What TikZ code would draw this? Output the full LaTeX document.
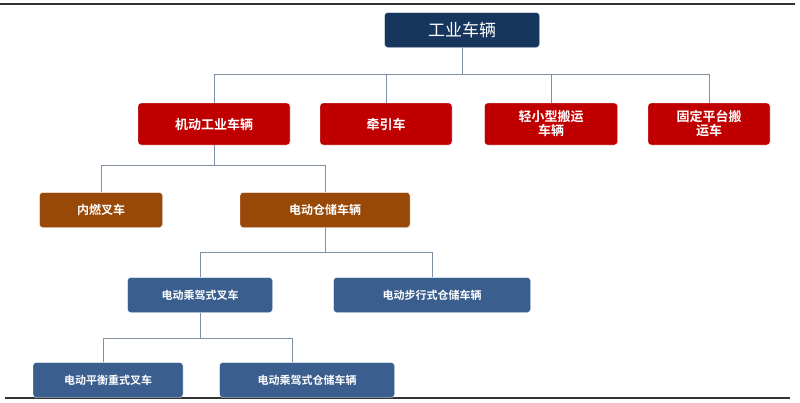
\documentclass[tikz,border=0pt]{standalone}
\usepackage{fontspec}
\newfontfamily\cjk{Noto Sans CJK SC}[BoldFont={Noto Sans CJK SC Bold}]
\usetikzlibrary{positioning}
\definecolor{navy}{HTML}{17365D}
\definecolor{redbox}{HTML}{C00000}
\definecolor{brownbox}{HTML}{984807}
\definecolor{bluebox}{HTML}{3A5F8F}
\definecolor{linkcol}{HTML}{7F8FA6}
\tikzset{
  box/.style={rectangle,rounded corners=3pt,draw=white,thin,text=white,align=center,inner sep=1pt,font=\cjk\bfseries},
  top/.style={box,fill=navy,minimum width=155pt,minimum height=35pt,font=\cjk\fontsize{17}{19}\selectfont},
  lvone/.style={box,fill=redbox,minimum height=42pt,font=\cjk\bfseries\fontsize{13}{14}\selectfont},
  lvtwo/.style={box,fill=brownbox,minimum height=35pt,font=\cjk\bfseries\fontsize{12}{14}\selectfont},
  lvthree/.style={box,fill=bluebox,minimum height=35pt,font=\cjk\bfseries\fontsize{11}{13}\selectfont},
  link/.style={draw=linkcol,line width=1pt}
}
\begin{document}
\begin{tikzpicture}[x=1pt,y=-1pt]
    \useasboundingbox (0,0) rectangle (800,402);
    % rahmen
    \draw[line width=1.5pt,black!80] (0,4) -- (795,4);
    \draw[line width=1.5pt,black!80] (5,398) -- (790,398);

    % Wurzel
    \node[top] (root) at (462,30) {工业车辆};

    % erste Ebene
    \node[lvone,minimum width=152pt] (motor) at (214,124) {机动工业车辆};
    \node[lvone,minimum width=132pt] (tractor) at (386,124) {牵引车};
    \node[lvone,minimum width=133pt] (light) at (551,124) {轻小型搬运\\车辆};
    \node[lvone,minimum width=122pt] (fixed) at (709,124) {固定平台搬\\运车};

    % zweite Ebene
    \node[lvtwo,minimum width=123pt] (ice) at (101,210) {内燃叉车};
    \node[lvtwo,minimum width=170pt] (store) at (325,210) {电动仓储车辆};

    % dritte Ebene
    \node[lvthree,minimum width=145pt] (ride) at (200,295) {电动乘驾式叉车};
    \node[lvthree,minimum width=197pt] (walk) at (432,295) {电动步行式仓储车辆};

    % vierte Ebene
    \node[lvthree,minimum width=150pt] (counter) at (108,380) {电动平衡重式叉车};
    \node[lvthree,minimum width=175pt] (ridestore) at (307,380) {电动乘驾式仓储车辆};

    % Verbindungen
    \coordinate (bus1) at (462,74);
    \draw[link] (root) -- (bus1);
    \foreach \n in {motor,tractor,light,fixed}
        \draw[link] (bus1) -| (\n.north);
    \coordinate (bus2) at (214,165);
    \draw[link] (motor) -- (bus2);
    \foreach \n in {ice,store}
        \draw[link] (bus2) -| (\n.north);
    \coordinate (bus3) at (325,252);
    \draw[link] (store) -- (bus3);
    \foreach \n in {ride,walk}
        \draw[link] (bus3) -| (\n.north);
    \coordinate (bus4) at (200,338);
    \draw[link] (ride) -- (bus4);
    \draw[link] (bus4) -| ([xshift=-5pt]counter.north);
    \draw[link] (bus4) -| ([xshift=-15pt]ridestore.north);
\end{tikzpicture}
\end{document}
